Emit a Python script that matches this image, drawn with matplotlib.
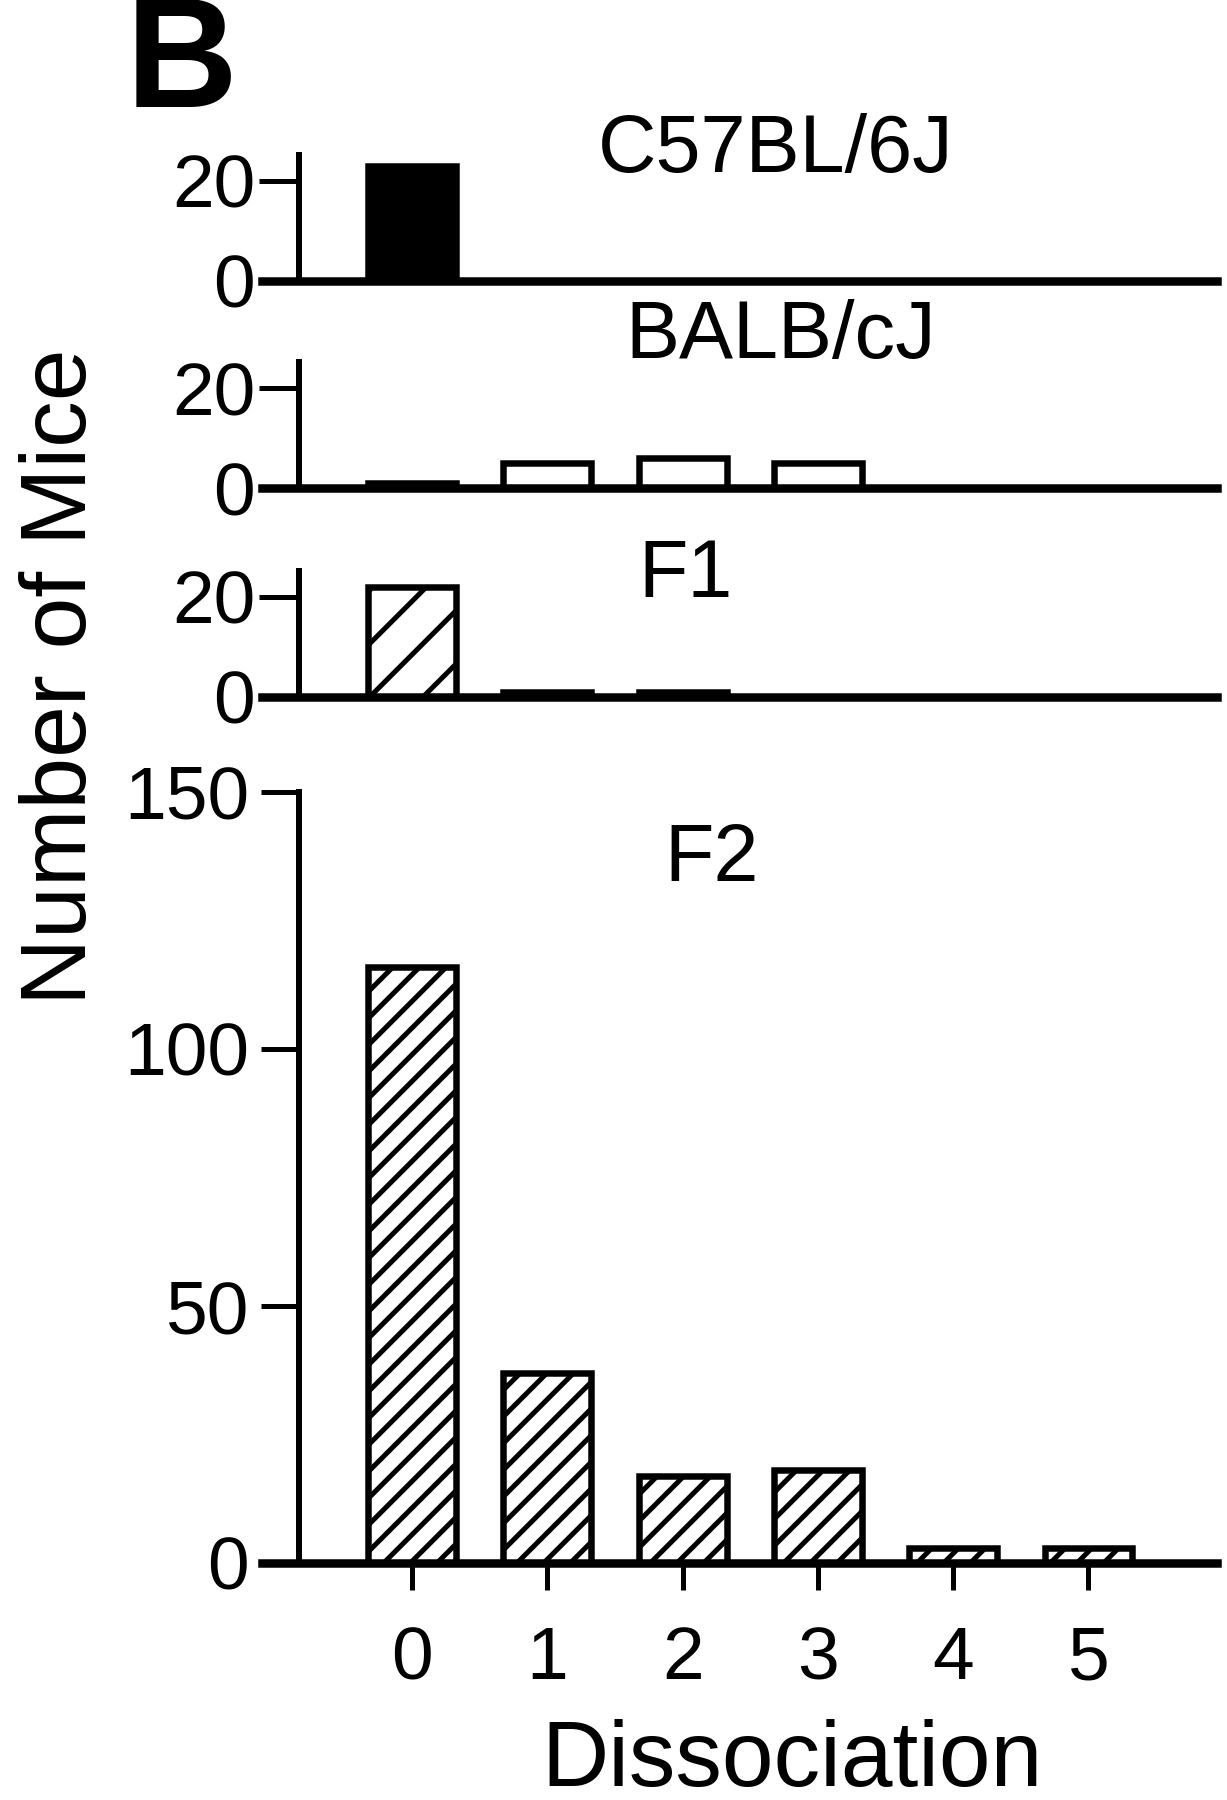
#!/usr/bin/env python
# -*- coding: utf-8 -*-
import matplotlib
matplotlib.use('Agg')
import matplotlib.pyplot as plt

W, H = 1227, 1800
DPI = 160  # also sets the hatch spacing


def pt(px):
    # sizes below are thought of in output pixels
    return px * 72.0 / DPI


plt.rcParams['font.family'] = ['Liberation Sans', 'DejaVu Sans']
plt.rcParams['hatch.linewidth'] = pt(5)

# data
dissociation = [0, 1, 2, 3, 4, 5]
c57 = [23, 0, 0, 0, 0, 0]
balb = [1, 5, 6, 5, 0, 0]
f1 = [22, 1, 1, 0, 0, 0]
f2 = [116, 37, 17, 18, 3, 3]

fig = plt.figure(figsize=(W / DPI, H / DPI), dpi=DPI)

left, width = 262 / W, 955 / W
xlim = (-1.109, 5.95)
spine_x = -0.835
bar_w = 0.65
lw_bar = pt(6.5)
lw_left = pt(6)
lw_bottom = pt(8.5)
tick_fs = pt(75)
title_fs = pt(81)


def style(ax):
    for s in ('top', 'right'):
        ax.spines[s].set_visible(False)
    ax.spines['left'].set_position(('data', spine_x))
    ax.spines['left'].set_linewidth(lw_left)
    ax.spines['bottom'].set_linewidth(lw_bottom)
    ax.spines['bottom'].set_zorder(3)
    ax.set_xlim(*xlim)


def small_panel(zero_px, values, title, title_xy, face, hatch=None):
    ax = fig.add_axes([left, 1 - zero_px / H, width, 126.5 / H])
    ax.bar(dissociation, values, bar_w, color=face, edgecolor='black',
           linewidth=lw_bar, hatch=hatch, zorder=1)
    style(ax)
    ax.set_ylim(0, 25.3)
    ax.set_yticks([0, 20])
    ax.set_xticks([])
    ax.tick_params(axis='y', direction='out', length=pt(40), width=pt(5),
                   pad=pt(4), labelsize=tick_fs)
    fig.text(title_xy[0], title_xy[1], title, fontsize=title_fs,
             ha='center', va='baseline')
    return ax


small_panel(281, c57, 'C57BL/6J', (0.632, 0.9044), 'black')
small_panel(488, balb, 'BALB/cJ', (0.636, 0.8011), 'white')
small_panel(697, f1, 'F1', (0.559, 0.6683), 'white', hatch='/')

# F2 panel
ax = fig.add_axes([left, 1 - 1563 / H, width, 771 / H])
ax.bar(dissociation, f2, bar_w, color='white', edgecolor='black',
       linewidth=lw_bar, hatch='//', zorder=1)
style(ax)
ax.set_ylim(0, 150)
ax.set_yticks([0, 50, 100, 150])
ax.set_xticks(dissociation)
ax.tick_params(axis='y', direction='out', length=pt(38), width=pt(5),
               pad=pt(12), labelsize=tick_fs)
ax.tick_params(axis='x', direction='out', length=pt(27), width=pt(5),
               pad=pt(35), labelsize=tick_fs)
fig.text(0.580, 0.5106, 'F2', fontsize=title_fs, ha='center', va='baseline')

# labels
fig.text(0.102, 0.9406, 'B', fontsize=pt(155), fontweight='bold',
         ha='left', va='baseline')
fig.text(0.070, 0.624, 'Number of Mice', fontsize=pt(93), rotation=90,
         rotation_mode='anchor', ha='center', va='baseline')
fig.text(0.6455, 0.008, 'Dissociation', fontsize=pt(93),
         ha='center', va='baseline')

fig.savefig('out.png', dpi=DPI)
